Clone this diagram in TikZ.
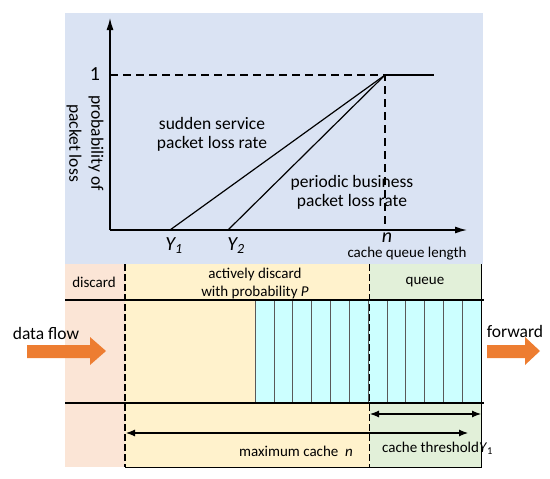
\documentclass[tikz,border=0pt]{standalone}
\usepackage{fontspec}
\setmainfont{Carlito}
\usetikzlibrary{arrows.meta,positioning,calc}
\definecolor{panelblue}{HTML}{DAE3F3}
\definecolor{droppink}{HTML}{FBE5D6}
\definecolor{dropyel}{HTML}{FFF2CC}
\definecolor{queuegrn}{HTML}{E2F0D9}
\definecolor{cellcyan}{HTML}{CCFFFF}
\definecolor{flow}{HTML}{ED7D31}
\tikzset{axis/.style={line width=1.3pt,-{Latex[length=12pt,width=7pt]}},
  curve/.style={line width=1.2pt},
  guide/.style={line width=1.2pt,dash pattern=on 8pt off 5pt},
  bound/.style={line width=1.1pt,dash pattern=on 7pt off 3pt},
  rail/.style={line width=1.2pt},
  span/.style={line width=1.1pt,{Latex[length=9pt,width=7pt]}-{Latex[length=9pt,width=7pt]}},
  big/.style={font=\fontsize{17.5}{19}\selectfont,inner sep=0pt},
  sym/.style={font=\fontsize{20}{22}\selectfont,inner sep=0pt},
  small/.style={font=\fontsize{15}{18}\selectfont,inner sep=0pt},
  cell/.style={draw=black!65,fill=cellcyan,line width=.6pt},
  fat/.style={fill=flow}}

\begin{document}
\begin{tikzpicture}[x=1pt,y=-1pt]
\useasboundingbox (0,0) rectangle (550,479);
% loss probability curve
\fill[panelblue] (65,13) rectangle (483,264);
\coordinate (O) at (110,230);
\coordinate (ytip) at (110,18);
\coordinate (xtip) at (467,230);
\coordinate (full) at (385,75);
\coordinate (cap) at (434,75);
\coordinate (y1) at (170,230);
\coordinate (y2) at (228,230);
\draw[axis] (O) -- (ytip);
\draw[axis] (O) -- (xtip);
\draw[guide] (O |- full) -- (full) -- (full |- O);
\draw[curve] (full) -- (cap);
\draw[curve] (y1) -- (full);
\draw[curve] (y2) -- (full);
\node[sym] (one) at (95,74) {1};
\node[sym] (lY1) at (174,246) {\itshape Y\textsubscript{1}};
\node[sym] (lY2) at (236,246) {\itshape Y\textsubscript{2}};
\node[sym] (ln) at (387,238) {\itshape n};
\node[small] (xlab) at (407,254) {cache queue length};
\node[big,align=center] (sudden) at (212,134) {sudden service\\packet loss rate};
\node[big,align=center] (periodic) at (352,192) {periodic business\\packet loss rate};
\node[big,align=center,rotate=-90,font=\fontsize{17.5}{22}\selectfont] (ylab) at (85,143) {probability of\\packet loss};
% buffer
\fill[droppink] (65,264) rectangle (125,467);
\fill[dropyel] (125,264) rectangle (369.5,467);
\fill[queuegrn] (369.5,264) rectangle (481,467);
\foreach \i in {0,...,11}{\draw[cell] ({255+\i*18.83},300) rectangle ++(18.83,103);}
\draw[rail] (65,300) -- (484,300);
\draw[rail] (65,403) -- (484,403);
\draw[line width=1pt] (481,264) -- (481,467) -- (125,467);
\draw[bound] (125,264) -- (125,467);
\draw[bound] (369.5,264) -- (369.5,467);
\node[small] (discard) at (94,282) {discard};
\node[small,align=center] (active) at (255,283) {actively discard\\with probability \textit{P}};
\node[small] (queue) at (425,282) {queue};
\coordinate (qa) at (370,414);
\coordinate (qb) at (481,414);
\coordinate (ma) at (126,433);
\coordinate (mb) at (468,433);
\draw[span] (qa) -- (qb);
\draw[span] (ma) -- (mb);
\node[small] (maxc) at (296,451) {maximum cache \ \textit{n}};
\node[small,anchor=west] (thresh) at (382,448) {cache threshold\textit{Y}\textsubscript{1}};
% in and out
\fill[fat] (27,345) -- (90,345) -- (90,337) -- (106,351) -- (90,365) -- (90,358) -- (27,358) -- cycle;
\fill[fat] (487,345) -- (525,345) -- (525,337) -- (540,351) -- (525,365) -- (525,358) -- (487,358) -- cycle;
\node[big] (inlab) at (46,333) {data flow};
\node[big] (outlab) at (515,331) {forward};
\end{tikzpicture}
\end{document}
